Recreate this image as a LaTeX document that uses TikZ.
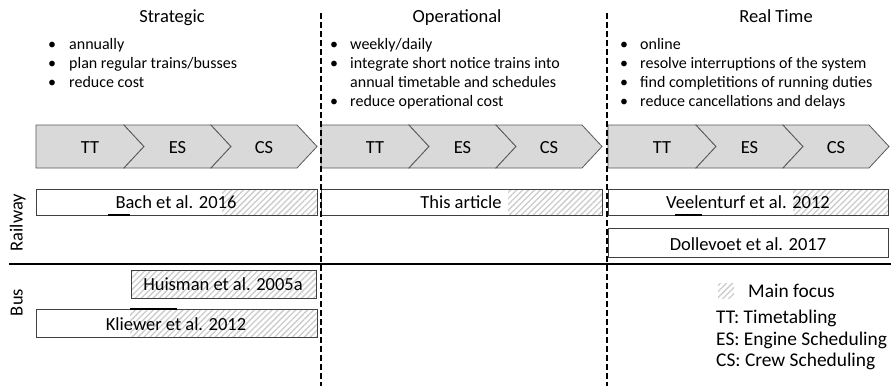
\documentclass[tikz,border=0pt]{standalone}
\usepackage{fontspec}
\setmainfont{Carlito}
\usetikzlibrary{patterns.meta,fit}
\begin{document}
\begin{tikzpicture}[x=1pt,y=-1pt,
  chev/.style={fill=gray!30, draw=black!65, line width=0.8pt},
  bar/.style={draw=black!75, line width=1pt, inner sep=0pt},
  hatch/.style={pattern={Lines[angle=45,distance=4.2pt,line width=1.3pt]}, pattern color=black!20},
  big/.style={font=\fontsize{18.5}{22}\selectfont, inner sep=0pt},
  leg/.style={font=\fontsize{19.4}{23}\selectfont, inner sep=0pt},
  small/.style={font=\fontsize{16}{19}\selectfont, inner sep=0pt},
  sep/.style={line width=1.5pt, dash pattern=on 6pt off 3pt},
  tick/.style={line width=1.8pt},
]
\useasboundingbox (0,0) rectangle (891,386);

% separators
\coordinate (v1t) at (321,13); \coordinate (v1b) at (321,386);
\coordinate (v2t) at (607,13); \coordinate (v2b) at (607,386);
\coordinate (hl) at (9,264); \coordinate (hr) at (891,264);

% titles
\node[big, anchor=base] (tS) at (172,22) {Strategic};
\node[big, anchor=base] (tO) at (457,22) {Operational};
\node[big, anchor=base] (tR) at (776,22) {Real Time};

% bullets
\foreach \y/\t [count=\i] in {49/annually, 68.2/plan regular trains\slash busses, 87.4/reduce cost}{
  \node[small, anchor=base] (sd\i) at (52,\y) {•};
  \node[small, anchor=base west] (sb\i) at (69,\y) {\t};
}
\foreach \y/\t [count=\i] in {49/weekly\slash daily, 68.2/integrate short notice trains into, 106.6/reduce operational cost}{
  \node[small, anchor=base] (od\i) at (334,\y) {•};
  \node[small, anchor=base west] (ob\i) at (350,\y) {\t};
}
\node[small, anchor=base west] (ob4) at (350,87.4) {annual timetable and schedules};
\foreach \y/\t [count=\i] in {49/online, 68.2/resolve interruptions of the system, 87.4/find completitions of running duties, 106.6/reduce cancellations and delays}{
  \node[small, anchor=base] (rd\i) at (624,\y) {•};
  \node[small, anchor=base west] (rb\i) at (640,\y) {\t};
}

% chevrons
\foreach \l/\n in {36/s,321/o,608/r}{
  \pgfmathsetmacro{\ra}{\l+88}
  \pgfmathsetmacro{\rb}{\l+175}
  \pgfmathsetmacro{\rc}{\l+261}
  \draw[chev] (\l,125) -- (\ra,125) -- ++(20,21.5) -- (\ra,168) -- (\l,168) -- cycle;
  \draw[chev] (\ra,125) -- (\rb,125) -- ++(20,21.5) -- (\rb,168) -- (\ra,168) -- ++(20,-21.5) -- cycle;
  \draw[chev] (\rb,125) -- (\rc,125) -- ++(20,21.5) -- (\rc,168) -- (\rb,168) -- ++(20,-21.5) -- cycle;
  \node[big, anchor=base] (tt\n) at ({(\l+\ra+20)/2},153) {TT};
  \node[big, anchor=base] (es\n) at ({(\ra+\rb+20)/2},153) {ES};
  \node[big, anchor=base] (cs\n) at ({(\rb+\rc+20)/2},153) {CS};
}

% railway bars
\fill[white] (36,189) rectangle (317,215);
\path[hatch] (222,189) rectangle (317,215);
\node[bar, fit={(36,189) (317,215)}] (bach) {};
\node[big, anchor=base] (bachT) at (176,208) {Bach et al. 2016};

\fill[white] (321,189) rectangle (602,215);
\path[hatch] (508,189) rectangle (602,215);
\node[bar, fit={(321,189) (602,215)}] (this) {};
\node[big, anchor=base] (thisT) at (461,208) {This article};

\fill[white] (608,189) rectangle (888,215);
\path[hatch] (793,189) rectangle (888,215);
\node[bar, fit={(608,189) (888,215)}] (veel) {};
\node[big, anchor=base] (veelT) at (748,208) {Veelenturf et al. 2012};

\node[bar, fill=white, fit={(608,228) (888,257)}] (doll) {};
\node[big, anchor=base] (dollT) at (748,250) {Dollevoet et al. 2017};

% bus bars
\fill[white] (131,270) rectangle (316,298);
\path[hatch] (131,270) rectangle (316,298);
\node[bar, fit={(131,270) (316,298)}] (huis) {};
\node[big, anchor=base] (huisT) at (223,290) {Huisman et al. 2005a};

\fill[white] (36,309) rectangle (317,337);
\path[hatch] (130,309) rectangle (317,337);
\node[bar, fit={(36,309) (317,337)}] (klie) {};
\node[big, anchor=base] (klieT) at (176,330) {Kliewer et al. 2012};

% small marks
\draw[tick] (108,215) -- (130,215);
\draw[tick] (675,215) -- (702,215);
\draw[tick] (130,309) -- (177,309);

% lines
\draw[sep] (v1t) -- (v1b);
\draw[sep] (v2t) -- (v2b);
\draw[line width=2pt] (hl) -- (hr);

% row labels
\node[big, anchor=base, rotate=90] (rail) at (22.5,222.5) {Railway};
\node[big, anchor=base, rotate=90] (bus) at (22.5,302.5) {Bus};

% legend
\path[hatch] (718,283) rectangle (734,298);
\node[leg, anchor=base west] (lmf) at (748,297) {Main focus};
\node[leg, anchor=base west] (ltt) at (716,323.5) {TT: Timetabling};
\node[leg, anchor=base west] (les) at (716,345) {ES: Engine Scheduling};
\node[leg, anchor=base west] (lcs) at (716,366.5) {CS: Crew Scheduling};
\end{tikzpicture}
\end{document}
